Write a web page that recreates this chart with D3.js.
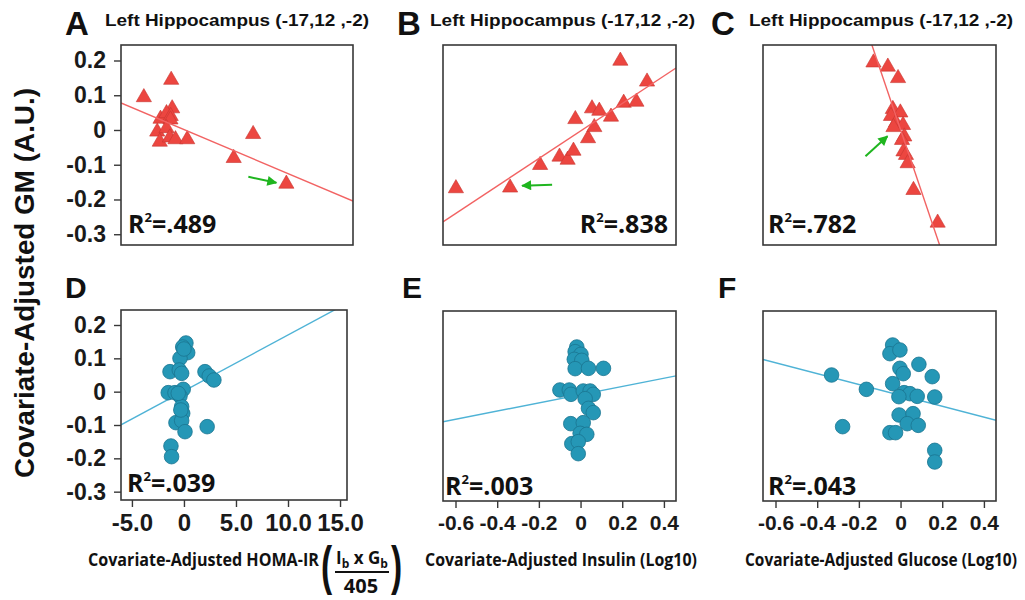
<!DOCTYPE html>
<html>
<head>
<meta charset="utf-8">
<script src="https://cdn.jsdelivr.net/npm/d3@7"></script>
<style>
body { margin: 0; background: #fff; }
</style>
</head>
<body>
<div id="chart"></div>
<script>
// top row: triangles (A-C), bottom row: circles (D-F)
const aHoma = [-3.91, -1.35, -1.26, -2.35, -1.79, -1.40, -1.42, -2.66, -1.79, -2.42, -1.48, -0.95, 0.15, 4.50, 6.32, 9.43];
const aGM = [0.094, 0.144, 0.062, 0.032, 0.048, 0.040, 0.030, -0.005, 0.005, -0.034, -0.022, -0.027, -0.027, -0.081, -0.012, -0.155];

const bInsulin = [-0.598, -0.338, -0.194, -0.101, -0.062, -0.034, -0.025, 0.036, 0.066, 0.055, 0.090, 0.146, 0.191, 0.207, 0.268, 0.319];
const bGM = [-0.168, -0.166, -0.101, -0.077, -0.086, -0.060, 0.031, -0.024, 0.008, 0.062, 0.055, 0.038, 0.199, 0.078, 0.081, 0.139];

const cGlucose = [-0.130, -0.061, -0.012, -0.037, -0.001, -0.046, -0.022, 0.012, -0.034, 0.018, 0.007, 0.014, 0.026, 0.034, 0.062, 0.178];
const cGM = [0.194, 0.182, 0.149, 0.060, 0.050, 0.040, 0.021, 0.014, 0.008, -0.019, -0.029, -0.062, -0.072, -0.096, -0.173, -0.267];

const dHoma = [0.19, -0.12, 0.36, -0.38, -1.34, -0.45, -0.22, 2.02, 2.43, 2.88, -1.51, -0.86, -0.07, -0.38, -0.22, -0.12, -0.77, -0.22, 0.10, 2.23, -1.25, -1.19, 0.00, -0.55, -0.30];
const dGM = [0.146, 0.134, 0.117, 0.100, 0.060, 0.065, 0.055, 0.060, 0.047, 0.035, -0.003, -0.003, 0.007, -0.013, -0.045, -0.065, -0.093, -0.087, -0.120, -0.105, -0.163, -0.195, 0.128, -0.005, -0.055];

const eInsulin = [-0.018, -0.026, 0.002, -0.030, 0.006, -0.026, 0.038, 0.110, -0.099, -0.054, -0.046, 0.013, 0.046, 0.061, 0.022, 0.038, 0.061, -0.047, 0.013, -0.002, 0.030, -0.042, -0.011, -0.011];
const eGM = [0.137, 0.123, 0.115, 0.100, 0.097, 0.072, 0.073, 0.073, 0.008, 0.008, -0.005, 0.005, 0.005, -0.005, -0.018, -0.047, -0.060, -0.093, -0.090, -0.122, -0.125, -0.153, -0.147, -0.183];

const fGlucose = [-0.038, -0.051, -0.003, 0.088, -0.003, 0.013, -0.331, 0.152, -0.038, -0.164, 0.017, 0.045, 0.080, -0.008, 0.164, -0.007, 0.060, 0.032, 0.085, -0.278, -0.051, -0.024, 0.164, 0.164];
const fGM = [0.143, 0.117, 0.128, 0.085, 0.073, 0.057, 0.053, 0.048, 0.027, 0.010, 0.000, -0.003, -0.011, -0.012, -0.013, -0.067, -0.063, -0.093, -0.098, -0.102, -0.120, -0.120, -0.173, -0.208];

// regression lines
const fitIntercepts = [-0.001, -0.003, 0.001, 0.002, -0.006, -0.008];
const fitSlopes = [-0.0130, 0.396, -1.772, 0.0168, 0.123, -0.163];
const r2Values = [".489", ".838", ".782", ".039", ".003", ".043"];
const panelLetters = ["A", "B", "C", "D", "E", "F"];
const regionTitle = "Left Hippocampus (-17,12 ,-2)";
const highlighted = [15, 1, 8];

const gmTicks = [0.2, 0.1, 0, -0.1, -0.2, -0.3];
const homaTicks = [-5, 0, 5, 10, 15];
const logTicks = [-0.6, -0.4, -0.2, 0, 0.2, 0.4];

const homaDomain = [-6.05, 15.67];
const logDomain = [-0.66, 0.458];
const gmDomainTop = [-0.331, 0.2446];
const gmDomainBottom = [-0.325, 0.245];

const svg = d3.select("#chart").append("svg")
    .attr("width", 1025)
    .attr("height", 600)
    .style("font-family", "'Liberation Sans', Arial, sans-serif");

svg.append("defs").append("marker")
    .attr("id", "greenArrow")
    .attr("viewBox", "0 0 10 10")
    .attr("refX", 9).attr("refY", 5)
    .attr("markerWidth", 11).attr("markerHeight", 10)
    .attr("markerUnits", "userSpaceOnUse")
    .attr("orient", "auto")
    .append("path")
    .attr("d", "M0,0 L10,5 L0,10 Z")
    .attr("fill", "#1fb51f");

const panels = [
    {xs: aHoma, ys: aGM, xDom: homaDomain, yDom: gmDomainTop, box: [121, 45, 353, 245], top: true,
        letter: [65, 35], title: [105, 264], r2: [128, 233, "start"], yAxis: true,
        arrow: {tip: [-10, -1], tail: [-38, -7]}},
    {xs: bInsulin, ys: bGM, xDom: logDomain, yDom: gmDomainTop, box: [443, 45, 676, 245], top: true,
        letter: [397, 35], title: [430, 265], r2: [668, 233, "end"],
        arrow: {tip: [12, -2], tail: [42, -3]}},
    {xs: cGlucose, ys: cGM, xDom: logDomain, yDom: gmDomainTop, box: [763, 45, 996, 245], top: true,
        letter: [711, 35], title: [749, 264], r2: [768, 233, "start"],
        arrow: {tip: [-6, 9], tail: [-28, 29]}},
    {xs: dHoma, ys: dGM, xDom: homaDomain, yDom: gmDomainBottom, box: [121, 310, 347, 500], top: false,
        letter: [65, 298], r2: [127, 492, "start"], yAxis: true, xTicks: homaTicks, xFont: 24},
    {xs: eInsulin, ys: eGM, xDom: logDomain, yDom: gmDomainBottom, box: [443, 311, 676, 501], top: false,
        letter: [402, 298], r2: [445, 495, "start"], xTicks: logTicks, xFont: 21},
    {xs: fGlucose, ys: fGM, xDom: logDomain, yDom: gmDomainBottom, box: [763, 311, 996, 501], top: false,
        letter: [718, 298], r2: [768, 495, "start"], xTicks: logTicks, xFont: 21}
];

// plain hyphen for negatives, like the figure
const fmt = d => d === 0 ? "0" : d3.format(".1f")(d).replace("\u2212", "-");

panels.forEach((p, i) => {
    const [x0, y0, x1, y1] = p.box;
    const x = d3.scaleLinear().domain(p.xDom).range([x0, x1]);
    const y = d3.scaleLinear().domain(p.yDom).range([y1, y0]);
    const g = svg.append("g");

    const clipId = "clip" + i;
    svg.select("defs").append("clipPath").attr("id", clipId)
        .append("rect").attr("x", x0).attr("y", y0).attr("width", x1 - x0).attr("height", y1 - y0);

    const points = p.xs.map((v, k) => ({x: v, y: p.ys[k]}));
    const fitLine = p.xDom.map(v => ({x: v, y: fitIntercepts[i] + fitSlopes[i] * v}));
    const line = d3.line().x(d => x(d.x)).y(d => y(d.y));

    if (!p.top) {
        g.append("path")
            .attr("d", line(fitLine))
            .attr("clip-path", `url(#${clipId})`)
            .attr("fill", "none")
            .attr("stroke", "#4fb3d6")
            .attr("stroke-width", 1.4);

        g.selectAll("circle.dot")
            .data(points)
            .enter()
            .append("circle")
            .attr("class", "dot")
            .attr("cx", d => x(d.x))
            .attr("cy", d => y(d.y))
            .attr("r", 7.3)
            .attr("fill", "#2597b6")
            .attr("stroke", "#1b7590")
            .attr("stroke-width", 0.8);
    } else {
        g.selectAll("path.tri")
            .data(points)
            .enter()
            .append("path")
            .attr("class", "tri")
            .attr("d", d3.symbol().type(d3.symbolTriangle).size(100))
            .attr("transform", d => `translate(${x(d.x)},${y(d.y)})`)
            .attr("fill", "#ec4640")
            .attr("stroke", "#c73631")
            .attr("stroke-width", 0.6);

        g.append("path")
            .attr("d", line(fitLine))
            .attr("clip-path", `url(#${clipId})`)
            .attr("fill", "none")
            .attr("stroke", "#f26363")
            .attr("stroke-width", 1.4);

        const hp = points[highlighted[i]];
        const hx = x(hp.x), hy = y(hp.y);
        g.append("line")
            .attr("x1", hx + p.arrow.tail[0]).attr("y1", hy + p.arrow.tail[1])
            .attr("x2", hx + p.arrow.tip[0]).attr("y2", hy + p.arrow.tip[1])
            .attr("stroke", "#1fb51f")
            .attr("stroke-width", 2)
            .attr("marker-end", "url(#greenArrow)");
    }

    g.append("rect")
        .attr("x", x0).attr("y", y0)
        .attr("width", x1 - x0).attr("height", y1 - y0)
        .attr("fill", "none")
        .attr("stroke", "#383838")
        .attr("stroke-width", 1.6);

    if (p.yAxis) {
        const ya = g.append("g")
            .attr("transform", `translate(${x0},0)`)
            .call(d3.axisLeft(y).tickValues(gmTicks).tickSize(7).tickPadding(8).tickFormat(fmt));
        ya.select(".domain").remove();
        ya.selectAll("line").attr("stroke", "#383838").attr("stroke-width", 1.4);
        ya.selectAll("text")
            .attr("font-family", "'Liberation Sans', Arial, sans-serif")
            .attr("font-weight", "bold")
            .attr("font-size", 23)
            .attr("fill", "#1a1a1a");
    }

    if (p.xTicks) {
        const xa = g.append("g")
            .attr("transform", `translate(0,${y1})`)
            .call(d3.axisBottom(x).tickValues(p.xTicks).tickSize(7).tickPadding(7).tickFormat(fmt));
        xa.select(".domain").remove();
        xa.selectAll("line").attr("stroke", "#383838").attr("stroke-width", 1.4);
        xa.selectAll("text")
            .attr("font-family", "'Liberation Sans', Arial, sans-serif")
            .attr("font-weight", "bold")
            .attr("font-size", p.xFont)
            .attr("fill", "#1a1a1a");
    }

    g.append("text")
        .attr("x", p.letter[0]).attr("y", p.letter[1])
        .style("font-weight", "bold")
        .style("font-size", p.top ? "33px" : "30px")
        .attr("fill", "#111")
        .text(panelLetters[i]);

    if (p.title) {
        g.append("text")
            .attr("x", p.title[0]).attr("y", 26)
            .attr("textLength", p.title[1])
            .attr("lengthAdjust", "spacingAndGlyphs")
            .style("font-weight", "bold")
            .style("font-size", "17px")
            .attr("fill", "#111")
            .text(regionTitle);
    }

    const r2 = g.append("text")
        .attr("x", p.r2[0]).attr("y", p.r2[1])
        .attr("text-anchor", p.r2[2])
        .style("font-family", "'Open Sans', sans-serif")
        .style("font-weight", "bold")
        .style("font-size", "25px")
        .attr("fill", "#111");
    r2.append("tspan").text("R");
    r2.append("tspan").attr("dy", -11).style("font-size", "13px").text("2");
    r2.append("tspan").attr("dy", 11).text("=" + r2Values[i]);
});

// shared y label
svg.append("text")
    .attr("transform", "translate(34,283) rotate(-90)")
    .attr("text-anchor", "middle")
    .attr("textLength", 390)
    .attr("lengthAdjust", "spacingAndGlyphs")
    .style("font-weight", "bold")
    .style("font-size", "27px")
    .attr("fill", "#111")
    .text("Covariate-Adjusted GM (A.U.)");

// x labels under bottom row, squeezed horizontally to the figure's narrow face
const xLabel = (txt, x, w) => {
    const t = svg.append("text")
        .attr("y", 566)
        .style("font-family", "'Open Sans', sans-serif")
        .style("font-weight", 700)
        .style("font-size", "17px")
        .attr("fill", "#111")
        .text(txt);
    const k = w / t.node().getComputedTextLength();
    t.attr("transform", `translate(${x},0) scale(${k},1)`);
};

xLabel("Covariate-Adjusted HOMA-IR", 88, 231);
xLabel("Covariate-Adjusted Insulin (Log10)", 425, 272);
xLabel("Covariate-Adjusted Glucose (Log10)", 745, 272);

// HOMA-IR formula
const paren = (ch, x) => svg.append("text")
    .attr("transform", `translate(${x},584) scale(0.62,1)`)
    .style("font-weight", "bold")
    .style("font-size", "54px")
    .attr("fill", "#111")
    .text(ch);
paren("(", 321);
paren(")", 391);

const num = svg.append("text")
    .attr("x", 336).attr("y", 564)
    .style("font-family", "'Open Sans', sans-serif")
    .style("font-weight", "bold")
    .style("font-size", "17px")
    .attr("fill", "#111");
num.append("tspan").text("I");
num.append("tspan").attr("dy", 4).style("font-size", "12px").text("b");
num.append("tspan").attr("dy", -4).text(" x G");
num.append("tspan").attr("dy", 4).style("font-size", "12px").text("b");

svg.append("line")
    .attr("x1", 335).attr("x2", 389)
    .attr("y1", 572).attr("y2", 572)
    .attr("stroke", "#111")
    .attr("stroke-width", 2);

svg.append("text")
    .attr("x", 361).attr("y", 593)
    .attr("text-anchor", "middle")
    .style("font-family", "'Open Sans', sans-serif")
    .style("font-weight", "bold")
    .style("font-size", "20px")
    .attr("fill", "#111")
    .text("405");
</script>
</body>
</html>
